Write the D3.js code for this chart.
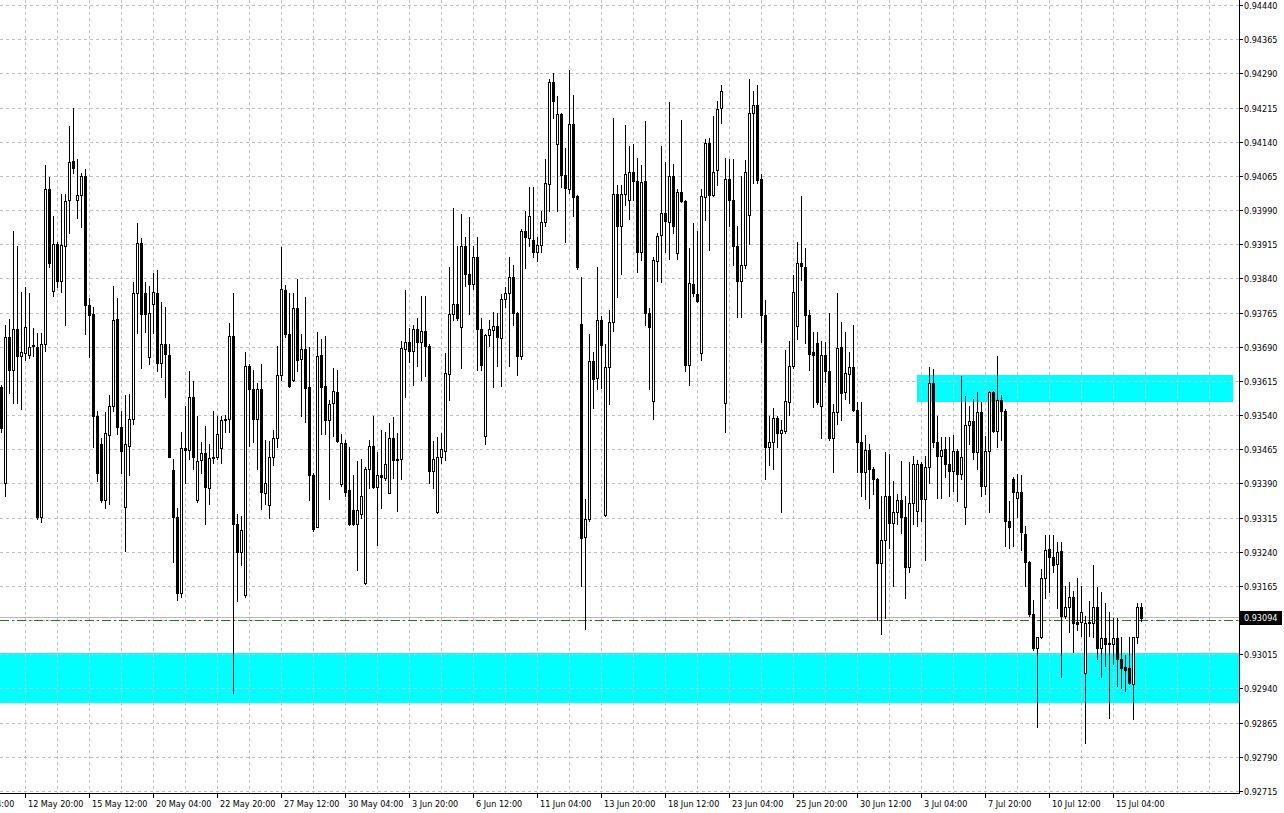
<!DOCTYPE html>
<html><head><meta charset="utf-8">
<script src="https://cdn.jsdelivr.net/npm/d3@7"></script>
<style>
html,body{margin:0;padding:0;background:#fff;overflow:hidden}
svg{display:block}
text{font-family:"DejaVu Sans Condensed","DejaVu Sans",sans-serif;font-size:9px;fill:#000}
</style></head><body>
<svg id="c" width="1284" height="813"></svg>
<script>
// ---- data (H4 bars, oldest first) ----
const opens = [.93601,.93392,.93712,.93638,.93730,.93670,.93676,.93671,.93692,.93690,.93317,.93697,.94037,.93813,.93915,.93834,.93911,.94013,.94097,.94013,.94022,.94065,.93781,.93761,.93537,.93476,.93353,.93497,.93559,.93751,.93514,.93338,.93473,.93531,.93808,.93918,.93808,.93668,.93783,.93807,.93654,.93697,.93671,.93420,.93317,.93150,.93467,.93463,.93580,.93353,.93441,.93456,.93381,.93446,.93449,.93467,.93530,.93531,.93714,.93302,.93240,.93146,.93648,.93597,.93531,.93597,.93369,.93342,.93449,.93490,.93627,.93815,.93718,.93618,.93774,.93664,.93684,.93601,.93409,.93294,.93671,.93603,.93529,.93567,.93591,.93388,.93479,.93375,.93332,.93302,.93323,.93172,.93422,.93473,.93383,.93409,.93403,.93370,.93489,.93442,.93444,.93685,.93701,.93680,.93729,.93701,.93725,.93691,.93417,.93328,.93448,.93462,.93631,.93762,.93783,.93734,.93911,.93850,.93828,.93886,.93730,.93495,.93715,.93726,.93736,.93709,.93795,.93807,.93843,.93763,.93669,.93944,.93929,.93925,.93899,.93913,.93964,.94048,.94272,.94135,.94201,.94068,.94036,.94178,.94021,.93740,.93272,.93311,.93658,.93621,.93748,.93321,.93646,.93744,.94025,.93954,.94025,.94013,.94074,.94054,.93899,.94054,.93763,.93572,.93878,.93935,.93984,.93964,.94064,.93896,.94029,.94009,.93651,.93828,.93805,.93677,.94019,.94137,.94023,.94077,.94215,.93566,.94058,.94011,.93911,.93835,.93870,.93979,.94202,.94221,.94058,.93760,.93471,.93481,.93533,.93501,.93505,.93569,.93648,.93735,.93874,.93866,.93760,.93679,.93698,.93560,.93672,.93637,.93489,.93547,.93690,.93590,.93630,.93645,.93552,.93481,.93416,.93463,.93421,.93399,.93215,.93265,.93363,.93304,.93328,.93354,.93316,.93206,.93346,.93329,.93432,.93355,.93425,.93610,.93481,.93450,.93465,.93433,.93417,.93461,.93411,.93338,.93518,.93527,.93459,.93547,.93384,.93461,.93590,.93505,.93573,.93548,.93308,.93400,.93358,.93371,.93279,.93217,.93103,.93028,.93052,.93182,.93247,.93229,.93214,.93241,.93099,.93119,.93141,.93085,.93085,.92973,.93084,.93084,.93119,.93028,.93050,.93038,.93038,.93050,.93005,.92987,.92985,.92950,.93052,.93119];
const highs = [.93606,.93738,.93751,.93943,.93911,.93811,.93821,.93809,.93731,.93721,.93721,.94089,.94063,.93977,.93920,.94025,.94025,.94174,.94213,.94101,.94072,.94080,.93798,.93777,.93550,.93490,.93546,.93584,.93824,.93798,.93550,.93584,.93586,.93832,.93962,.93928,.93832,.93824,.93851,.93858,.93789,.93777,.93695,.93443,.93336,.93503,.93560,.93637,.93614,.93537,.93482,.93516,.93477,.93550,.93537,.93537,.93541,.93742,.93807,.93323,.93319,.93678,.93653,.93640,.93610,.93653,.93486,.93483,.93507,.93691,.93909,.93825,.93807,.93807,.93839,.93717,.93800,.93689,.93413,.93723,.93706,.93714,.93573,.93644,.93638,.93499,.93486,.93469,.93409,.93439,.93443,.93426,.93486,.93537,.93460,.93507,.93503,.93523,.93536,.93500,.93703,.93815,.93731,.93737,.93753,.93801,.93801,.93695,.93484,.93491,.93500,.93677,.93866,.93995,.93911,.93982,.93931,.93974,.93911,.93931,.93752,.93719,.93748,.93766,.93764,.93805,.93821,.93886,.93870,.93766,.93948,.93988,.94041,.94041,.93931,.93987,.94101,.94278,.94290,.94241,.94202,.94127,.94297,.94243,.94023,.93842,.93356,.93719,.93678,.93866,.93758,.93695,.93771,.94192,.94046,.94046,.94176,.94131,.94135,.94104,.94088,.94186,.93775,.93886,.93940,.94130,.94096,.94228,.94090,.94037,.94188,.94013,.93907,.93962,.93944,.94037,.94145,.94148,.94197,.94229,.94264,.94104,.94101,.94103,.93954,.94064,.94099,.94278,.94251,.94264,.94070,.93793,.93537,.93556,.93537,.93529,.93682,.93702,.93848,.93920,.94020,.93907,.93770,.93722,.93722,.93702,.93700,.93765,.93564,.93807,.93744,.93722,.93678,.93738,.93568,.93568,.93497,.93476,.93426,.93401,.93363,.93458,.93454,.93395,.93367,.93440,.93363,.93438,.93450,.93442,.93438,.93450,.93645,.93641,.93537,.93493,.93492,.93492,.93496,.93465,.93625,.93582,.93560,.93575,.93590,.93568,.93494,.93593,.93593,.93669,.93584,.93553,.93351,.93405,.93411,.93408,.93296,.93220,.93135,.93052,.93202,.93277,.93277,.93277,.93261,.93261,.93166,.93174,.93154,.93182,.93166,.93099,.93131,.93210,.93162,.93151,.93127,.93107,.93095,.93095,.93052,.93013,.93054,.93054,.93127,.93128];
const lows = [.93503,.93362,.93589,.93567,.93567,.93553,.93661,.93665,.93670,.93311,.93306,.93680,.93864,.93801,.93821,.93811,.93738,.93939,.94072,.93973,.93952,.93717,.93668,.93471,.93396,.93349,.93336,.93345,.93550,.93499,.93413,.93242,.93409,.93520,.93721,.93644,.93723,.93653,.93721,.93636,.93623,.93580,.93448,.93218,.93135,.93141,.93392,.93443,.93422,.93350,.93413,.93302,.93345,.93435,.93443,.93435,.93503,.93503,.92930,.93131,.93212,.93140,.93473,.93482,.93422,.93334,.93345,.93315,.93430,.93469,.93618,.93712,.93601,.93614,.93636,.93537,.93524,.93353,.93285,.93294,.93499,.93499,.93355,.93494,.93482,.93385,.93362,.93298,.93298,.93201,.93315,.93170,.93379,.93381,.93255,.93336,.93397,.93368,.93401,.93329,.93399,.93580,.93656,.93607,.93647,.93617,.93625,.93391,.93380,.93326,.93435,.93442,.93574,.93748,.93748,.93644,.93824,.93762,.93817,.93639,.93638,.93476,.93691,.93602,.93647,.93603,.93778,.93647,.93737,.93628,.93664,.93862,.93911,.93886,.93878,.93897,.93956,.93988,.94191,.93987,.94041,.93919,.94028,.93976,.93860,.93164,.93070,.93307,.93556,.93597,.93599,.93319,.93564,.93725,.93799,.93850,.94001,.93970,.94013,.93854,.93881,.93737,.93598,.93531,.93835,.93833,.93899,.93882,.93939,.93882,.94007,.93636,.93607,.93801,.93789,.93660,.93968,.93903,.94021,.94046,.94180,.93503,.93956,.93870,.93756,.93756,.93862,.93915,.94050,.94050,.93701,.93399,.93430,.93422,.93470,.93328,.93501,.93541,.93643,.93706,.93836,.93698,.93639,.93558,.93564,.93489,.93612,.93485,.93414,.93521,.93529,.93576,.93566,.93548,.93414,.93363,.93355,.93336,.93367,.93091,.93060,.93095,.93249,.93164,.93300,.93281,.93139,.93195,.93300,.93296,.93308,.93221,.93391,.93470,.93359,.93359,.93404,.93362,.93373,.93352,.93400,.93301,.93477,.93444,.93422,.93363,.93367,.93328,.93503,.93470,.93485,.93253,.93249,.93253,.93316,.93245,.93166,.93099,.93024,.92855,.93050,.93139,.93151,.93195,.93117,.92965,.93095,.93064,.93020,.93068,.93056,.92820,.93056,.93052,.93005,.92965,.92989,.92875,.92993,.92946,.92942,.92934,.92950,.92872,.93040,.93089];
const closes = [.93512,.93712,.93638,.93728,.93670,.93678,.93734,.93690,.93694,.93317,.93697,.94037,.93873,.93915,.93834,.93913,.94010,.94095,.94082,.94022,.94065,.93781,.93760,.93537,.93413,.93353,.93500,.93561,.93749,.93513,.93462,.93477,.93531,.93807,.93918,.93761,.93761,.93764,.93811,.93654,.93697,.93674,.93449,.93317,.93150,.93467,.93463,.93580,.93449,.93439,.93456,.93383,.93446,.93449,.93499,.93530,.93531,.93714,.93302,.93240,.93287,.93648,.93597,.93531,.93597,.93372,.93392,.93449,.93490,.93627,.93817,.93718,.93603,.93774,.93661,.93684,.93600,.93409,.93289,.93670,.93601,.93529,.93565,.93593,.93483,.93479,.93372,.93302,.93302,.93332,.93362,.93422,.93473,.93383,.93409,.93405,.93432,.93489,.93442,.93444,.93687,.93701,.93680,.93729,.93701,.93725,.93691,.93417,.93443,.93448,.93465,.93633,.93762,.93783,.93752,.93912,.93850,.93828,.93886,.93730,.93649,.93715,.93729,.93736,.93711,.93795,.93807,.93843,.93763,.93669,.93944,.93931,.93976,.93899,.93913,.93964,.94050,.94270,.94229,.94201,.94068,.94039,.94179,.94019,.93866,.93270,.93311,.93658,.93620,.93748,.93693,.93646,.93745,.94025,.93956,.94025,.94070,.94074,.94054,.93898,.94052,.93763,.93734,.93881,.93934,.93984,.93966,.94064,.93956,.94029,.94009,.93651,.93829,.93807,.93791,.94021,.94137,.94023,.94074,.94212,.94251,.94058,.94011,.93911,.93835,.93870,.94074,.94202,.94221,.94055,.93760,.93471,.93481,.93533,.93501,.93507,.93571,.93648,.93811,.93874,.93868,.93760,.93675,.93671,.93568,.93672,.93637,.93489,.93547,.93688,.93589,.93633,.93645,.93552,.93481,.93416,.93463,.93421,.93399,.93215,.93265,.93363,.93304,.93328,.93354,.93316,.93206,.93346,.93432,.93432,.93355,.93425,.93610,.93481,.93450,.93463,.93433,.93417,.93461,.93411,.93448,.93518,.93527,.93459,.93547,.93384,.93461,.93590,.93505,.93573,.93548,.93308,.93295,.93371,.93371,.93284,.93217,.93103,.93028,.93052,.93182,.93245,.93229,.93211,.93240,.93099,.93119,.93141,.93084,.93081,.93107,.93084,.93085,.93119,.93028,.93050,.93038,.93039,.93050,.93005,.92985,.92981,.92951,.93052,.93119,.93094];

const priceTicks = [0.94440,0.94365,0.94290,0.94215,0.94140,0.94065,0.93990,0.93915,0.93840,0.93765,0.93690,0.93615,0.93540,0.93465,0.93390,0.93315,0.93240,0.93165,0.93090,0.93015,0.92940,0.92865,0.92790,0.92715];
const timeLabelBars = [-10,6,22,38,54,70,86,102,118,134,150,166,182,198,214,230,246,262,278];
const timeLabels = ["8 May 04:00","12 May 20:00","15 May 12:00","20 May 04:00","22 May 20:00","27 May 12:00","30 May 04:00","3 Jun 20:00","6 Jun 12:00","11 Jun 04:00","13 Jun 20:00","18 Jun 12:00","23 Jun 04:00","25 Jun 20:00","30 Jun 12:00","3 Jul 04:00","7 Jul 20:00","10 Jul 12:00","15 Jul 04:00"];
const bidPrice = 0.93094;
const hLinePrice = 0.93091;
const zoneUpperPrices = [0.93628, 0.93569];
const zoneUpperBars = [229, 308];
const zoneLowerPrices = [0.93018, 0.92908];
const zoneLowerBars = [-20, 400];

// ---- layout ----
const W = 1284, H = 813, plotR = 1239, plotB = 793;
const barStep = 4, firstBarX = 1;
const svg = d3.select("#c");
svg.append("rect").attr("width", W).attr("height", H).attr("fill", "#fff");

const x = d3.scaleLinear().domain([0, 1]).range([firstBarX, firstBarX + barStep]);
const y = d3.scaleLinear().domain([0.92715, 0.94440]).range([791, 5]);
const ry = v => Math.round(y(v));

svg.append("defs").append("clipPath").attr("id", "plot")
  .append("rect").attr("x", 0).attr("y", 0).attr("width", plotR).attr("height", plotB);
const g = svg.append("g").attr("clip-path", "url(#plot)");

// zones
function zone(prices, bars) {
  const x0 = x(bars[0]), x1 = x(bars[1]);
  g.append("rect").attr("x", x0).attr("y", ry(prices[0]))
    .attr("width", x1 - x0).attr("height", ry(prices[1]) - ry(prices[0]))
    .attr("fill", "#00ffff");
}
zone(zoneLowerPrices, zoneLowerBars);
zone(zoneUpperPrices, zoneUpperBars);

// grid
const gridCol = "#c0c0c0";
g.selectAll("line.hg").data(priceTicks).enter().append("line")
  .attr("x1", 0).attr("x2", plotR).attr("y1", d => ry(d) + 0.5).attr("y2", d => ry(d) + 0.5)
  .attr("stroke", gridCol).attr("stroke-dasharray", "3,3");
const vBars = d3.range(6, 320, 8).filter(b => x(b) < plotR);
g.selectAll("line.vg").data(vBars).enter().append("line")
  .attr("x1", d => x(d) + 0.5).attr("x2", d => x(d) + 0.5).attr("y1", 0).attr("y2", plotB)
  .attr("stroke", gridCol).attr("stroke-dasharray", "3,3");

// bid + horizontal line
g.append("line").attr("x1", 0).attr("x2", plotR).attr("y1", ry(bidPrice) - 0.5).attr("y2", ry(bidPrice) - 0.5)
  .attr("stroke", "#b8b8b8");
g.append("line").attr("x1", 0).attr("x2", plotR).attr("y1", ry(hLinePrice) + 0.5).attr("y2", ry(hLinePrice) + 0.5)
  .attr("stroke", "#1a7a1a").attr("stroke-dasharray", "9,3,2,3");

// candles
const bars = opens.map((o, i) => ({i, o, h: highs[i], l: lows[i], c: closes[i]}));
const cg = g.append("g");
bars.forEach(d => {
  const cx = x(d.i);
  const yh = ry(d.h), yl = ry(d.l);
  cg.append("rect").attr("x", cx).attr("y", yh).attr("width", 1).attr("height", yl - yh + 1).attr("fill", "#000");
  const top = ry(Math.max(d.o, d.c)), bot = ry(Math.min(d.o, d.c));
  cg.append("rect").attr("x", cx - 1).attr("y", top).attr("width", 3).attr("height", bot - top + 1).attr("fill", "#000");
  if (d.c > d.o && bot - top > 1) {
    cg.append("rect").attr("x", cx).attr("y", top + 1).attr("width", 1).attr("height", bot - top - 1).attr("fill", "#fff");
  }
});

// axes lines
svg.append("line").attr("x1", plotR + 0.5).attr("x2", plotR + 0.5).attr("y1", 0).attr("y2", plotB + 1).attr("stroke", "#000");
svg.append("line").attr("x1", 0).attr("x2", plotR + 1).attr("y1", plotB + 0.5).attr("y2", plotB + 0.5).attr("stroke", "#000");

// price ticks + labels
priceTicks.forEach(t => {
  const yy = ry(t) + 0.5;
  svg.append("line").attr("x1", plotR).attr("x2", plotR + 4).attr("y1", yy).attr("y2", yy).attr("stroke", "#000");
  svg.append("text").attr("x", plotR + 5).attr("y", yy).attr("dy", "0.35em").text(t.toFixed(5));
});

// time ticks + labels
timeLabelBars.forEach((b, k) => {
  const xx = x(b) + 0.5;
  svg.append("line").attr("x1", xx).attr("x2", xx).attr("y1", plotB).attr("y2", plotB + 5).attr("stroke", "#000");
  svg.append("text").attr("x", x(b) + 3).attr("y", 807).text(timeLabels[k]);
});

// current price label
const yb = ry(bidPrice);
svg.append("rect").attr("x", plotR + 1).attr("y", yb - 7).attr("width", 42).attr("height", 14).attr("fill", "#000");
svg.append("text").attr("x", plotR + 5).attr("y", yb).attr("dy", "0.35em").style("fill", "#fff").text(bidPrice.toFixed(5));
</script>
</body></html>
